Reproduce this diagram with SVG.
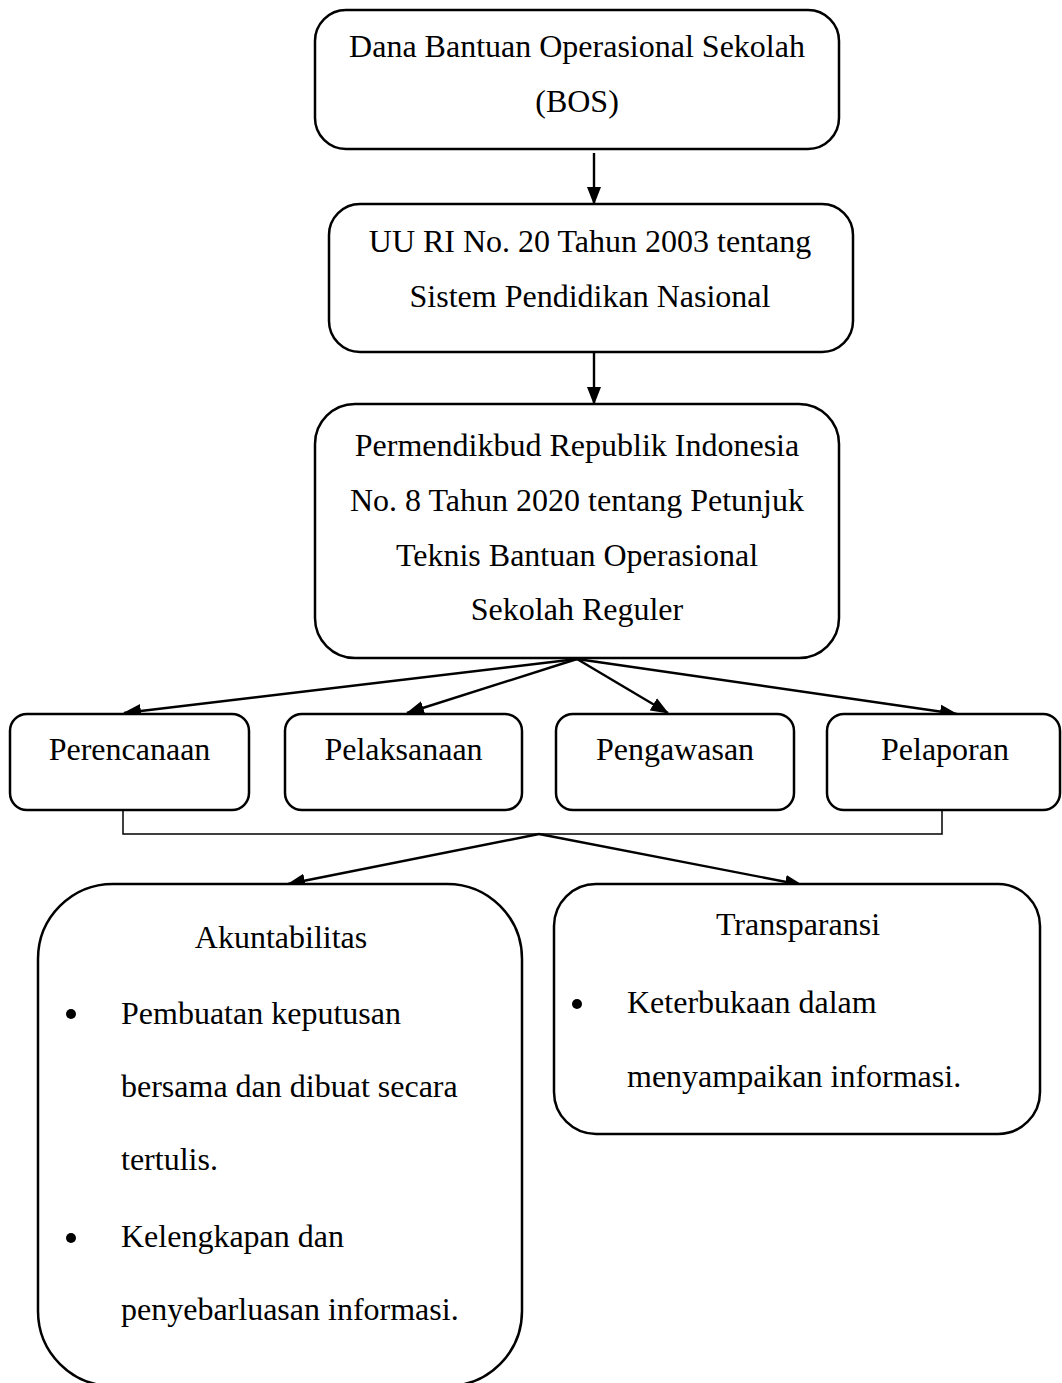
<svg xmlns="http://www.w3.org/2000/svg" width="1062" height="1383" viewBox="0 0 1062 1383">
<style>
  .box{fill:#fff;stroke:#000;stroke-width:2.5}
  .t{font-family:"Liberation Serif","Times New Roman",serif;font-size:32px;fill:#000}
  .c{text-anchor:middle}
  .arr{stroke:#000;stroke-width:2.4;fill:none;marker-end:url(#ah)}
  .thin{stroke:#000;stroke-width:1.5;fill:none}
</style>
<defs>
  <marker id="ah" markerUnits="userSpaceOnUse" markerWidth="18" markerHeight="16" refX="17" refY="8" orient="auto">
    <path d="M0,1 L18,8 L0,15 Z" fill="#000"/>
  </marker>
</defs>
<rect width="1062" height="1383" fill="#fff"/>
<g id="connectors">
  <line class="arr" x1="594" y1="153" x2="594" y2="204"/>
  <line class="arr" x1="594" y1="353" x2="594" y2="404"/>
  <line class="arr" x1="577" y1="659" x2="124" y2="713"/>
  <line class="arr" x1="577" y1="659" x2="407" y2="713"/>
  <line class="arr" x1="577" y1="659" x2="668" y2="713"/>
  <line class="arr" x1="577" y1="659" x2="957" y2="714"/>
  <polyline class="thin" points="123,810 123,834 942,834 942,810"/>
  <line class="arr" x1="539" y1="834" x2="288" y2="884"/>
  <line class="arr" x1="539" y1="834" x2="802" y2="885"/>
</g>
<g id="n_bos">
  <rect class="box" x="315" y="10" width="524" height="139" rx="31"/>
  <text class="t c" x="577" y="57">Dana Bantuan Operasional Sekolah</text>
  <text class="t c" x="577" y="112">(BOS)</text>
</g>
<g id="n_uu">
  <rect class="box" x="329" y="204" width="524" height="148" rx="31"/>
  <text class="t c" x="590" y="252">UU RI No. 20 Tahun 2003 tentang</text>
  <text class="t c" x="590" y="307">Sistem Pendidikan Nasional</text>
</g>
<g id="n_permen">
  <rect class="box" x="315" y="404" width="524" height="254" rx="40"/>
  <text class="t c" x="577" y="456">Permendikbud Republik Indonesia</text>
  <text class="t c" x="577" y="511">No. 8 Tahun 2020 tentang Petunjuk</text>
  <text class="t c" x="577" y="566">Teknis Bantuan Operasional</text>
  <text class="t c" x="577" y="620">Sekolah Reguler</text>
</g>
<g id="n_perencanaan">
  <rect class="box" x="10" y="714" width="239" height="96" rx="17"/>
  <text class="t c" x="129.5" y="760">Perencanaan</text>
</g>
<g id="n_pelaksanaan">
  <rect class="box" x="285" y="714" width="237" height="96" rx="17"/>
  <text class="t c" x="403.5" y="760">Pelaksanaan</text>
</g>
<g id="n_pengawasan">
  <rect class="box" x="556" y="714" width="238" height="96" rx="17"/>
  <text class="t c" x="675" y="760">Pengawasan</text>
</g>
<g id="n_pelaporan">
  <rect class="box" x="827" y="714" width="233" height="96" rx="17"/>
  <text class="t c" x="945" y="760">Pelaporan</text>
</g>
<g id="n_akuntabilitas">
  <rect class="box" x="38" y="884" width="484" height="502" rx="75"/>
  <text class="t c" x="281" y="948">Akuntabilitas</text>
  <circle cx="71" cy="1014" r="5"/>
  <text class="t" x="121" y="1024">Pembuatan keputusan</text>
  <text class="t" x="121" y="1097">bersama dan dibuat secara</text>
  <text class="t" x="121" y="1170">tertulis.</text>
  <circle cx="71" cy="1238" r="5"/>
  <text class="t" x="121" y="1247">Kelengkapan dan</text>
  <text class="t" x="121" y="1320">penyebarluasan informasi.</text>
</g>
<g id="n_transparansi">
  <rect class="box" x="554" y="884" width="486" height="250" rx="42"/>
  <text class="t c" x="798" y="935">Transparansi</text>
  <circle cx="577" cy="1004" r="5"/>
  <text class="t" x="627" y="1013">Keterbukaan dalam</text>
  <text class="t" x="627" y="1087">menyampaikan informasi.</text>
</g>
</svg>
